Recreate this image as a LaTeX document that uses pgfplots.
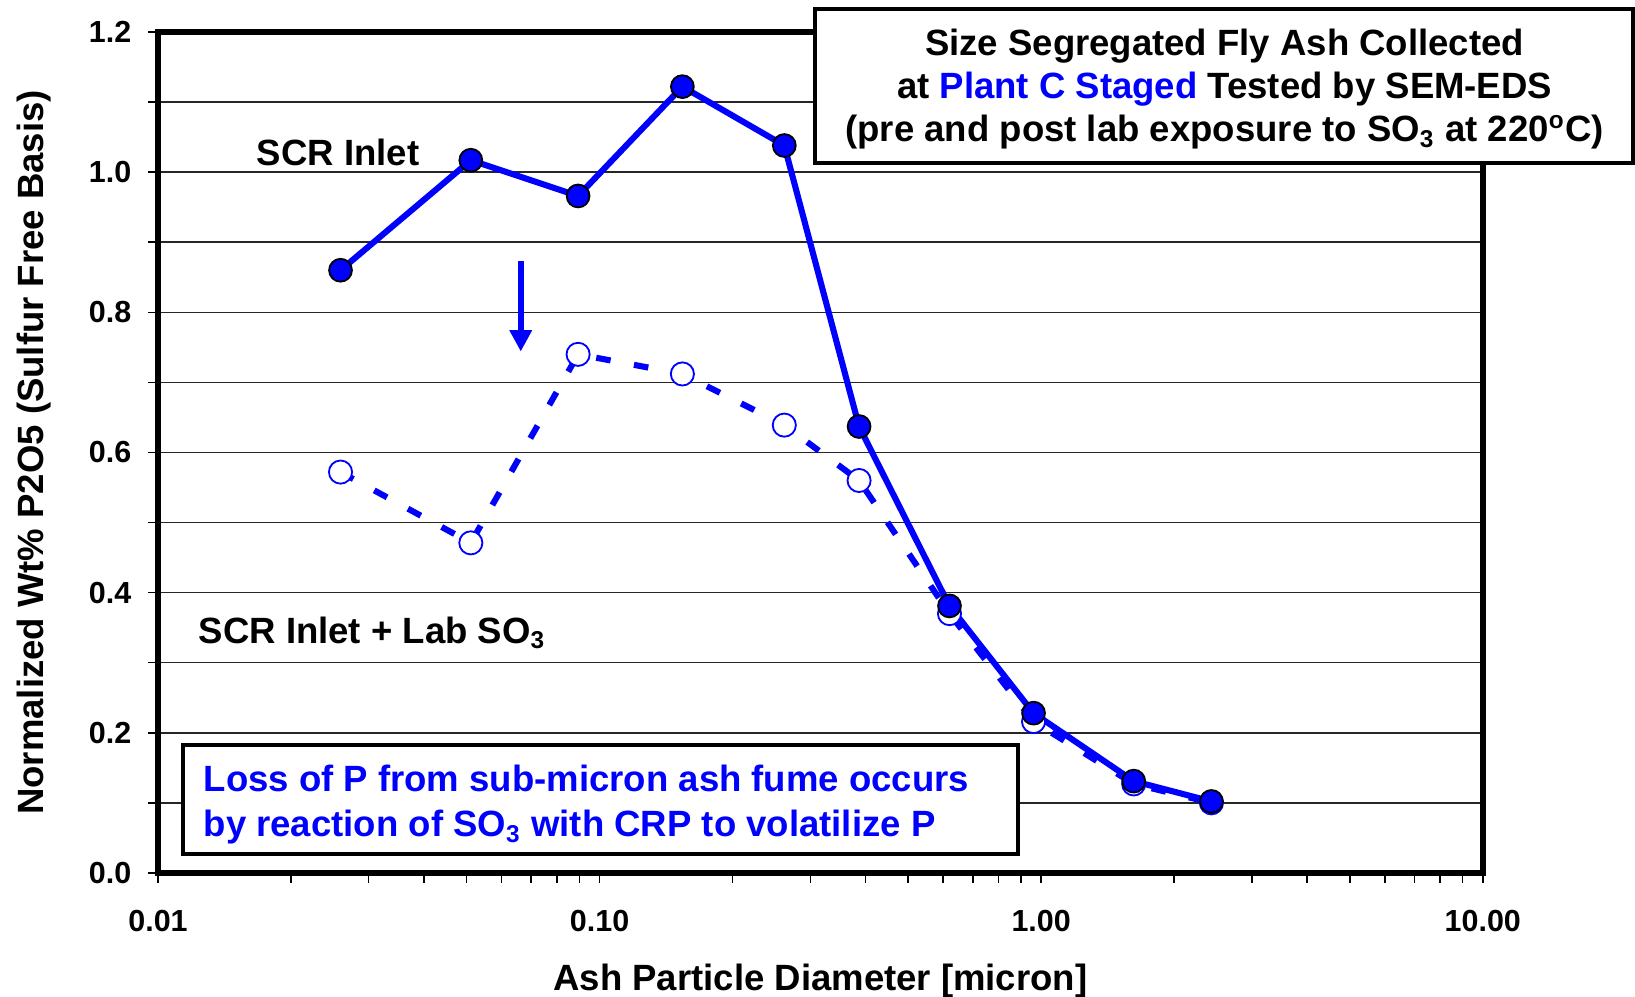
\documentclass[border=0pt]{standalone}
\usepackage{fontspec}
\setmainfont{Liberation Sans}
\usepackage{pgfplots}
\pgfplotsset{compat=1.18}
\usetikzlibrary{arrows.meta}
\definecolor{pblue}{RGB}{0,0,255}

\begin{document}
\begin{tikzpicture}[font=\fontsize{12}{14.6}\selectfont\bfseries]
\useasboundingbox (-51.9pt,-40.7pt) rectangle (485.1pt,286.7pt);
\begin{axis}[
  at={(0,0)}, anchor=south west,
  scale only axis, width=435.1pt, height=276.2pt,
  xmode=log, xmin=0.01, xmax=10, ymin=0, ymax=1.2,
  clip=false,
  xtick={0.01,0.1,1,10}, xticklabels={0.01,0.10,1.00,10.00},
  ytick={0,0.2,0.4,0.6,0.8,1.0,1.2},
  yticklabels={0.0,0.2,0.4,0.6,0.8,1.0,1.2},
  minor ytick={0.1,0.3,0.5,0.7,0.9,1.1},
  ymajorgrids, yminorgrids,
  grid style={black!85, line width=0.5pt},
  tick align=outside, tick pos=left,
  major tick length=3.3pt, minor tick length=3.3pt,
  every tick/.style={black, line width=0.5pt},
  axis line style={line width=1.8pt},
  ticklabel style={font=\fontsize{10}{12}\selectfont\bfseries, inner sep=0pt},
  xticklabel style={anchor=center, yshift=-12.4pt},
  yticklabel style={anchor=east, xshift=-5.3pt},
  xlabel={Ash Particle Diameter [micron]},
  xlabel style={at={(axis description cs:0.5,-0.1398)}, anchor=base, inner sep=0pt},
  ylabel={Normalized Wt\% P2O5 (Sulfur Free Basis)},
  ylabel style={at={(axis description cs:-0.0866,0.5)}, anchor=base, inner sep=0pt},
]
% after lab SO3 exposure
\addplot[pblue, line width=2pt, dash pattern=on 4.8pt off 7.8pt,
  mark=*, mark size=3.8pt, mark options={solid, fill=white, draw=pblue, line width=0.6pt}]
  coordinates {(0.0259,0.572)(0.0511,0.471)(0.0894,0.740)(0.154,0.712)(0.262,0.639)
               (0.387,0.560)(0.620,0.370)(0.961,0.216)(1.62,0.127)(2.43,0.100)};
% SCR inlet
\addplot[pblue, line width=2pt,
  mark=*, mark size=3.75pt, mark options={fill=pblue, draw=black, line width=0.6pt}]
  coordinates {(0.0259,0.860)(0.0511,1.017)(0.0894,0.966)(0.154,1.122)(0.262,1.038)
               (0.387,0.637)(0.620,0.381)(0.961,0.228)(1.62,0.131)(2.43,0.102)};
\node[anchor=base west, inner sep=0pt] at (axis cs:0.0167,1.010) {SCR Inlet};
\node[anchor=base west, inner sep=0pt] at (axis cs:0.01233,0.328) {SCR Inlet + Lab SO\textsubscript{3}};
\draw[pblue, line width=2pt, -{Triangle[width=7pt,length=7pt]}]
  (axis cs:0.0663,0.873) -- (axis cs:0.0663,0.744);
\end{axis}
% title box
\draw[line width=1.4pt, fill=white] (215.8pt,233.2pt) rectangle (484.4pt,283.7pt);
\node[anchor=base, inner sep=0pt] at (350.3pt,268.6pt) {Size Segregated Fly Ash Collected};
\node[anchor=base, inner sep=0pt] at (350.3pt,254.4pt) {at \textcolor{pblue}{Plant C Staged} Tested by SEM-EDS};
\node[anchor=base, inner sep=0pt] at (350.3pt,240.2pt) {(pre and post lab exposure to SO\textsubscript{3} at 220\textsuperscript{o}C)};
% note box
\draw[line width=1.4pt, fill=white] (8.2pt,6.2pt) rectangle (282.4pt,42.0pt);
\node[anchor=base west, inner sep=0pt, text=pblue] at (14.8pt,26.7pt) {Loss of P from sub-micron ash fume occurs};
\node[anchor=base west, inner sep=0pt, text=pblue] at (14.8pt,11.9pt) {by reaction of SO\textsubscript{3} with CRP to volatilize P};
\end{tikzpicture}
\end{document}
